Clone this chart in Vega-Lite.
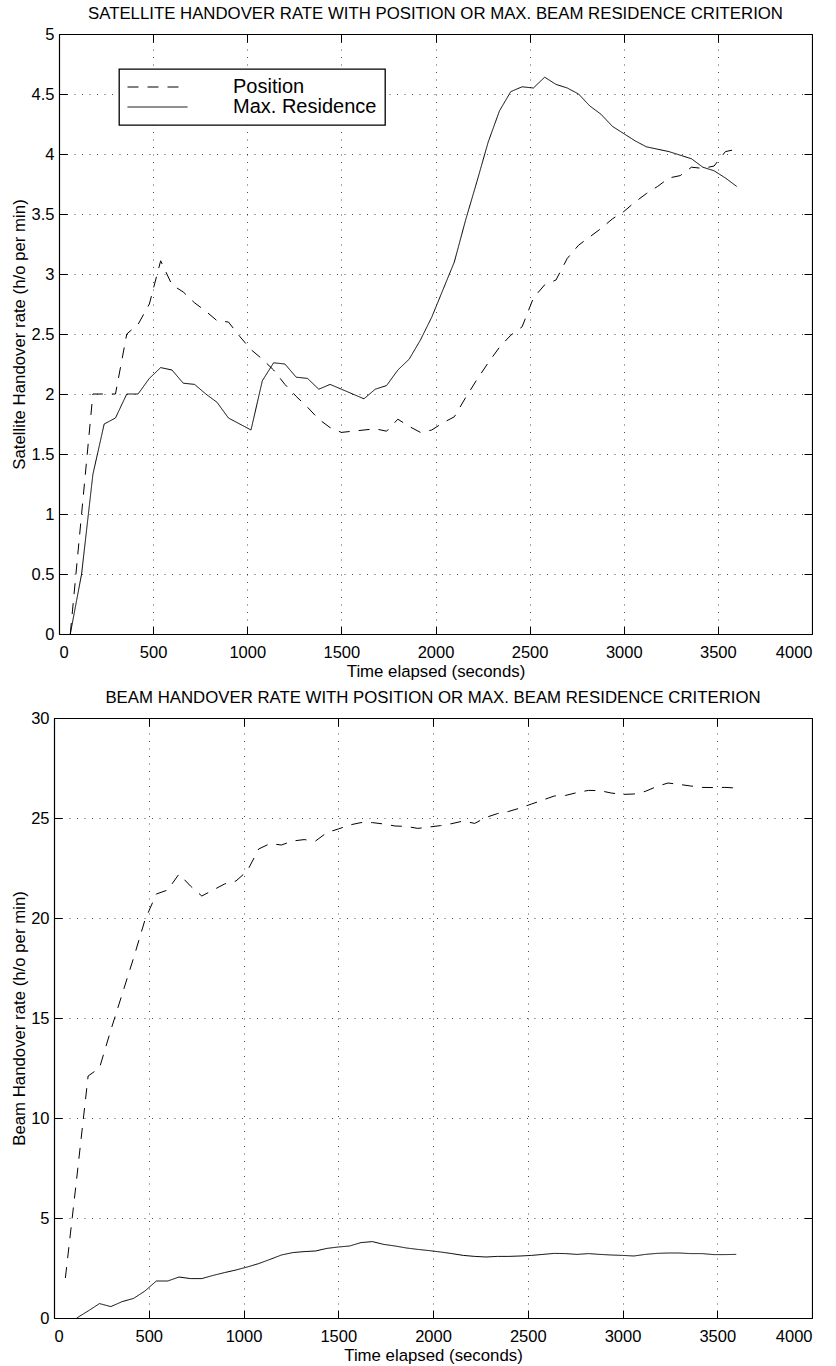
{
  "$schema": "https://vega.github.io/schema/vega-lite/v6.json",
  "background": "white",
  "padding": {"left": 11, "top": 6, "right": 0, "bottom": 0},
  "spacing": 9,
  "config": {
    "font": "Liberation Sans",
    "view": {"stroke": null},
    "axis": {
      "domainColor": "black",
      "domainWidth": 1.2,
      "tickColor": "black",
      "tickSize": -8,
      "tickWidth": 1,
      "labelFont": "Liberation Sans",
      "labelFontSize": 16.5,
      "labelColor": "black",
      "titleFont": "Liberation Sans",
      "titleFontSize": 16.8,
      "titleFontWeight": "normal",
      "titleColor": "black",
      "gridColor": "black",
      "gridOpacity": 0.7,
      "gridDash": [1, 6.5],
      "gridWidth": 1,
      "minExtent": 0
    },
    "axisX": {"labelPadding": 18, "titleBaseline": "alphabetic", "titleY": 42.5},
    "axisY": {"labelPadding": 13, "titleBaseline": "alphabetic"},
    "title": {
      "font": "Liberation Sans",
      "fontSize": 16.8,
      "fontWeight": "normal",
      "color": "black",
      "anchor": "middle",
      "frame": "group",
      "baseline": "alphabetic",
      "offset": 3
    },
    "legend": {
      "labelFont": "Liberation Sans",
      "labelFontSize": 20,
      "labelColor": "black",
      "labelLimit": 400,
      "labelOffset": 45,
      "symbolType": "stroke",
      "symbolSize": 3600,
      "symbolStrokeWidth": 1,
      "strokeColor": "black",
      "strokeWidth": 1.3,
      "fillColor": "white",
      "padding": 8,
      "rowPadding": -2.6,
      "clipHeight": 20
    }
  },
  "datasets": {
    "sat": [
      {"t": 60, "v": 0, "s": "Position"}, {"t": 120, "v": 1.0, "s": "Position"}, {"t": 180, "v": 2.0, "s": "Position"},
      {"t": 240, "v": 2.0, "s": "Position"}, {"t": 300, "v": 2.0, "s": "Position"}, {"t": 360, "v": 2.5, "s": "Position"},
      {"t": 420, "v": 2.58, "s": "Position"}, {"t": 480, "v": 2.75, "s": "Position"}, {"t": 540, "v": 3.11, "s": "Position"},
      {"t": 600, "v": 2.91, "s": "Position"}, {"t": 660, "v": 2.85, "s": "Position"}, {"t": 720, "v": 2.76, "s": "Position"},
      {"t": 780, "v": 2.69, "s": "Position"}, {"t": 840, "v": 2.61, "s": "Position"}, {"t": 900, "v": 2.6, "s": "Position"},
      {"t": 960, "v": 2.48, "s": "Position"}, {"t": 1020, "v": 2.37, "s": "Position"}, {"t": 1080, "v": 2.29, "s": "Position"},
      {"t": 1140, "v": 2.2, "s": "Position"}, {"t": 1200, "v": 2.08, "s": "Position"}, {"t": 1260, "v": 1.98, "s": "Position"},
      {"t": 1320, "v": 1.89, "s": "Position"}, {"t": 1380, "v": 1.79, "s": "Position"}, {"t": 1440, "v": 1.72, "s": "Position"},
      {"t": 1500, "v": 1.68, "s": "Position"}, {"t": 1560, "v": 1.69, "s": "Position"}, {"t": 1620, "v": 1.7, "s": "Position"},
      {"t": 1680, "v": 1.71, "s": "Position"}, {"t": 1740, "v": 1.69, "s": "Position"}, {"t": 1800, "v": 1.79, "s": "Position"},
      {"t": 1860, "v": 1.73, "s": "Position"}, {"t": 1920, "v": 1.68, "s": "Position"}, {"t": 1980, "v": 1.7, "s": "Position"},
      {"t": 2040, "v": 1.76, "s": "Position"}, {"t": 2100, "v": 1.81, "s": "Position"}, {"t": 2160, "v": 1.97, "s": "Position"},
      {"t": 2220, "v": 2.12, "s": "Position"}, {"t": 2280, "v": 2.26, "s": "Position"}, {"t": 2340, "v": 2.39, "s": "Position"},
      {"t": 2400, "v": 2.49, "s": "Position"}, {"t": 2460, "v": 2.56, "s": "Position"}, {"t": 2520, "v": 2.8, "s": "Position"},
      {"t": 2580, "v": 2.91, "s": "Position"}, {"t": 2640, "v": 2.95, "s": "Position"}, {"t": 2700, "v": 3.13, "s": "Position"},
      {"t": 2760, "v": 3.24, "s": "Position"}, {"t": 2820, "v": 3.31, "s": "Position"}, {"t": 2880, "v": 3.38, "s": "Position"},
      {"t": 2940, "v": 3.46, "s": "Position"}, {"t": 3000, "v": 3.52, "s": "Position"}, {"t": 3060, "v": 3.6, "s": "Position"},
      {"t": 3120, "v": 3.67, "s": "Position"}, {"t": 3180, "v": 3.73, "s": "Position"}, {"t": 3240, "v": 3.8, "s": "Position"},
      {"t": 3300, "v": 3.82, "s": "Position"}, {"t": 3360, "v": 3.89, "s": "Position"}, {"t": 3420, "v": 3.88, "s": "Position"},
      {"t": 3480, "v": 3.9, "s": "Position"}, {"t": 3540, "v": 4.02, "s": "Position"}, {"t": 3600, "v": 4.04, "s": "Position"},

      {"t": 60, "v": 0, "s": "Max. Residence"}, {"t": 120, "v": 0.5, "s": "Max. Residence"}, {"t": 180, "v": 1.33, "s": "Max. Residence"},
      {"t": 240, "v": 1.75, "s": "Max. Residence"}, {"t": 300, "v": 1.8, "s": "Max. Residence"}, {"t": 360, "v": 2.0, "s": "Max. Residence"},
      {"t": 420, "v": 2.0, "s": "Max. Residence"}, {"t": 480, "v": 2.13, "s": "Max. Residence"}, {"t": 540, "v": 2.22, "s": "Max. Residence"},
      {"t": 600, "v": 2.2, "s": "Max. Residence"}, {"t": 660, "v": 2.09, "s": "Max. Residence"}, {"t": 720, "v": 2.08, "s": "Max. Residence"},
      {"t": 780, "v": 2.0, "s": "Max. Residence"}, {"t": 840, "v": 1.93, "s": "Max. Residence"}, {"t": 900, "v": 1.8, "s": "Max. Residence"},
      {"t": 960, "v": 1.75, "s": "Max. Residence"}, {"t": 1020, "v": 1.7, "s": "Max. Residence"}, {"t": 1080, "v": 2.11, "s": "Max. Residence"},
      {"t": 1140, "v": 2.26, "s": "Max. Residence"}, {"t": 1200, "v": 2.25, "s": "Max. Residence"}, {"t": 1260, "v": 2.14, "s": "Max. Residence"},
      {"t": 1320, "v": 2.13, "s": "Max. Residence"}, {"t": 1380, "v": 2.04, "s": "Max. Residence"}, {"t": 1440, "v": 2.08, "s": "Max. Residence"},
      {"t": 1500, "v": 2.04, "s": "Max. Residence"}, {"t": 1560, "v": 2.0, "s": "Max. Residence"}, {"t": 1620, "v": 1.96, "s": "Max. Residence"},
      {"t": 1680, "v": 2.04, "s": "Max. Residence"}, {"t": 1740, "v": 2.07, "s": "Max. Residence"}, {"t": 1800, "v": 2.2, "s": "Max. Residence"},
      {"t": 1860, "v": 2.29, "s": "Max. Residence"}, {"t": 1920, "v": 2.45, "s": "Max. Residence"}, {"t": 1980, "v": 2.64, "s": "Max. Residence"},
      {"t": 2040, "v": 2.87, "s": "Max. Residence"}, {"t": 2100, "v": 3.1, "s": "Max. Residence"}, {"t": 2160, "v": 3.45, "s": "Max. Residence"},
      {"t": 2220, "v": 3.77, "s": "Max. Residence"}, {"t": 2280, "v": 4.1, "s": "Max. Residence"}, {"t": 2340, "v": 4.36, "s": "Max. Residence"},
      {"t": 2400, "v": 4.52, "s": "Max. Residence"}, {"t": 2460, "v": 4.56, "s": "Max. Residence"}, {"t": 2520, "v": 4.55, "s": "Max. Residence"},
      {"t": 2580, "v": 4.64, "s": "Max. Residence"}, {"t": 2640, "v": 4.58, "s": "Max. Residence"}, {"t": 2700, "v": 4.55, "s": "Max. Residence"},
      {"t": 2760, "v": 4.5, "s": "Max. Residence"}, {"t": 2820, "v": 4.4, "s": "Max. Residence"}, {"t": 2880, "v": 4.33, "s": "Max. Residence"},
      {"t": 2940, "v": 4.23, "s": "Max. Residence"}, {"t": 3000, "v": 4.17, "s": "Max. Residence"}, {"t": 3060, "v": 4.11, "s": "Max. Residence"},
      {"t": 3120, "v": 4.06, "s": "Max. Residence"}, {"t": 3180, "v": 4.04, "s": "Max. Residence"}, {"t": 3240, "v": 4.02, "s": "Max. Residence"},
      {"t": 3300, "v": 3.99, "s": "Max. Residence"}, {"t": 3360, "v": 3.96, "s": "Max. Residence"}, {"t": 3420, "v": 3.89, "s": "Max. Residence"},
      {"t": 3480, "v": 3.86, "s": "Max. Residence"}, {"t": 3540, "v": 3.8, "s": "Max. Residence"}, {"t": 3600, "v": 3.73, "s": "Max. Residence"}
    ],
    "beam": [
      {"t": 60, "v": 2.0, "s": "Position"}, {"t": 120, "v": 7.0, "s": "Position"}, {"t": 180, "v": 12.1, "s": "Position"},
      {"t": 240, "v": 12.5, "s": "Position"}, {"t": 300, "v": 14.4, "s": "Position"}, {"t": 360, "v": 16.2, "s": "Position"},
      {"t": 420, "v": 18.0, "s": "Position"}, {"t": 480, "v": 19.9, "s": "Position"}, {"t": 540, "v": 21.2, "s": "Position"},
      {"t": 600, "v": 21.4, "s": "Position"}, {"t": 660, "v": 22.2, "s": "Position"}, {"t": 720, "v": 21.6, "s": "Position"},
      {"t": 780, "v": 21.1, "s": "Position"}, {"t": 840, "v": 21.4, "s": "Position"}, {"t": 900, "v": 21.7, "s": "Position"},
      {"t": 960, "v": 21.85, "s": "Position"}, {"t": 1020, "v": 22.35, "s": "Position"}, {"t": 1080, "v": 23.45, "s": "Position"},
      {"t": 1140, "v": 23.72, "s": "Position"}, {"t": 1200, "v": 23.65, "s": "Position"}, {"t": 1260, "v": 23.85, "s": "Position"},
      {"t": 1320, "v": 23.92, "s": "Position"}, {"t": 1380, "v": 23.85, "s": "Position"}, {"t": 1440, "v": 24.27, "s": "Position"},
      {"t": 1500, "v": 24.45, "s": "Position"}, {"t": 1560, "v": 24.65, "s": "Position"}, {"t": 1620, "v": 24.77, "s": "Position"},
      {"t": 1680, "v": 24.77, "s": "Position"}, {"t": 1740, "v": 24.7, "s": "Position"}, {"t": 1800, "v": 24.6, "s": "Position"},
      {"t": 1860, "v": 24.58, "s": "Position"}, {"t": 1920, "v": 24.48, "s": "Position"}, {"t": 1980, "v": 24.55, "s": "Position"},
      {"t": 2040, "v": 24.62, "s": "Position"}, {"t": 2100, "v": 24.72, "s": "Position"}, {"t": 2160, "v": 24.85, "s": "Position"},
      {"t": 2220, "v": 24.73, "s": "Position"}, {"t": 2280, "v": 25.03, "s": "Position"}, {"t": 2340, "v": 25.22, "s": "Position"},
      {"t": 2400, "v": 25.33, "s": "Position"}, {"t": 2460, "v": 25.5, "s": "Position"}, {"t": 2520, "v": 25.7, "s": "Position"},
      {"t": 2580, "v": 25.9, "s": "Position"}, {"t": 2640, "v": 26.1, "s": "Position"}, {"t": 2700, "v": 26.13, "s": "Position"},
      {"t": 2760, "v": 26.27, "s": "Position"}, {"t": 2820, "v": 26.38, "s": "Position"}, {"t": 2880, "v": 26.37, "s": "Position"},
      {"t": 2940, "v": 26.25, "s": "Position"}, {"t": 3000, "v": 26.18, "s": "Position"}, {"t": 3060, "v": 26.2, "s": "Position"},
      {"t": 3120, "v": 26.33, "s": "Position"}, {"t": 3180, "v": 26.57, "s": "Position"}, {"t": 3240, "v": 26.75, "s": "Position"},
      {"t": 3300, "v": 26.68, "s": "Position"}, {"t": 3360, "v": 26.6, "s": "Position"}, {"t": 3420, "v": 26.53, "s": "Position"},
      {"t": 3480, "v": 26.52, "s": "Position"}, {"t": 3540, "v": 26.53, "s": "Position"}, {"t": 3600, "v": 26.5, "s": "Position"},

      {"t": 120, "v": 0, "s": "Max. Residence"}, {"t": 180, "v": 0.35, "s": "Max. Residence"},
      {"t": 240, "v": 0.72, "s": "Max. Residence"}, {"t": 300, "v": 0.57, "s": "Max. Residence"}, {"t": 360, "v": 0.82, "s": "Max. Residence"},
      {"t": 420, "v": 0.98, "s": "Max. Residence"}, {"t": 480, "v": 1.35, "s": "Max. Residence"}, {"t": 540, "v": 1.85, "s": "Max. Residence"},
      {"t": 600, "v": 1.85, "s": "Max. Residence"}, {"t": 660, "v": 2.05, "s": "Max. Residence"}, {"t": 720, "v": 1.97, "s": "Max. Residence"},
      {"t": 780, "v": 1.97, "s": "Max. Residence"}, {"t": 840, "v": 2.13, "s": "Max. Residence"}, {"t": 900, "v": 2.27, "s": "Max. Residence"},
      {"t": 960, "v": 2.4, "s": "Max. Residence"}, {"t": 1020, "v": 2.55, "s": "Max. Residence"}, {"t": 1080, "v": 2.72, "s": "Max. Residence"},
      {"t": 1140, "v": 2.93, "s": "Max. Residence"}, {"t": 1200, "v": 3.15, "s": "Max. Residence"}, {"t": 1260, "v": 3.27, "s": "Max. Residence"},
      {"t": 1320, "v": 3.32, "s": "Max. Residence"}, {"t": 1380, "v": 3.35, "s": "Max. Residence"}, {"t": 1440, "v": 3.48, "s": "Max. Residence"},
      {"t": 1500, "v": 3.55, "s": "Max. Residence"}, {"t": 1560, "v": 3.6, "s": "Max. Residence"}, {"t": 1620, "v": 3.77, "s": "Max. Residence"},
      {"t": 1680, "v": 3.82, "s": "Max. Residence"}, {"t": 1740, "v": 3.68, "s": "Max. Residence"}, {"t": 1800, "v": 3.6, "s": "Max. Residence"},
      {"t": 1860, "v": 3.5, "s": "Max. Residence"}, {"t": 1920, "v": 3.43, "s": "Max. Residence"}, {"t": 1980, "v": 3.37, "s": "Max. Residence"},
      {"t": 2040, "v": 3.3, "s": "Max. Residence"}, {"t": 2100, "v": 3.22, "s": "Max. Residence"}, {"t": 2160, "v": 3.13, "s": "Max. Residence"},
      {"t": 2220, "v": 3.08, "s": "Max. Residence"}, {"t": 2280, "v": 3.05, "s": "Max. Residence"}, {"t": 2340, "v": 3.08, "s": "Max. Residence"},
      {"t": 2400, "v": 3.08, "s": "Max. Residence"}, {"t": 2460, "v": 3.1, "s": "Max. Residence"}, {"t": 2520, "v": 3.13, "s": "Max. Residence"},
      {"t": 2580, "v": 3.18, "s": "Max. Residence"}, {"t": 2640, "v": 3.23, "s": "Max. Residence"}, {"t": 2700, "v": 3.22, "s": "Max. Residence"},
      {"t": 2760, "v": 3.18, "s": "Max. Residence"}, {"t": 2820, "v": 3.22, "s": "Max. Residence"}, {"t": 2880, "v": 3.18, "s": "Max. Residence"},
      {"t": 2940, "v": 3.15, "s": "Max. Residence"}, {"t": 3000, "v": 3.13, "s": "Max. Residence"}, {"t": 3060, "v": 3.1, "s": "Max. Residence"},
      {"t": 3120, "v": 3.18, "s": "Max. Residence"}, {"t": 3180, "v": 3.23, "s": "Max. Residence"}, {"t": 3240, "v": 3.25, "s": "Max. Residence"},
      {"t": 3300, "v": 3.25, "s": "Max. Residence"}, {"t": 3360, "v": 3.22, "s": "Max. Residence"}, {"t": 3420, "v": 3.22, "s": "Max. Residence"},
      {"t": 3480, "v": 3.17, "s": "Max. Residence"}, {"t": 3540, "v": 3.17, "s": "Max. Residence"}, {"t": 3600, "v": 3.18, "s": "Max. Residence"}
    ]
  },
  "vconcat": [
    {
      "width": 758,
      "height": 600,
      "title": {"text": "SATELLITE HANDOVER RATE WITH POSITION OR MAX. BEAM RESIDENCE CRITERION", "dx": 2.5},
      "data": {"name": "sat"},
      "layer": [
        {
          "mark": {"type": "line", "color": "black", "strokeWidth": 1},
          "encoding": {
            "x": {
              "field": "t", "type": "quantitative",
              "scale": {"domain": [0, 4000], "nice": false, "range": [5, 758]},
              "axis": {"orient": "bottom", "title": "Time elapsed (seconds)", "format": "d",
                       "values": [0, 500, 1000, 1500, 2000, 2500, 3000, 3500, 4000]}
            },
            "y": {
              "field": "v", "type": "quantitative",
              "scale": {"domain": [0, 5], "nice": false},
              "axis": {"orient": "left", "title": "Satellite Handover rate (h/o per min)", "format": "~g",
                       "offset": -5, "titleX": -35,
                       "values": [0, 0.5, 1, 1.5, 2, 2.5, 3, 3.5, 4, 4.5, 5]}
            },
            "strokeDash": {
              "field": "s", "type": "nominal",
              "scale": {"domain": ["Position", "Max. Residence"], "range": [[11, 9], [1, 0]]},
              "legend": {"title": null, "orient": "none", "legendX": 65, "legendY": 35}
            }
          }
        },
        {
          "mark": {"type": "line", "opacity": 0},
          "encoding": {
            "x": {
              "field": "t", "type": "quantitative",
              "axis": {"orient": "top", "title": null, "labels": false, "grid": false,
                       "values": [0, 500, 1000, 1500, 2000, 2500, 3000, 3500, 4000]}
            },
            "y": {
              "field": "v", "type": "quantitative",
              "axis": {"orient": "right", "title": null, "labels": false, "grid": false,
                       "values": [0, 0.5, 1, 1.5, 2, 2.5, 3, 3.5, 4, 4.5, 5]}
            }
          }
        }
      ],
      "resolve": {"axis": {"x": "independent", "y": "independent"}}
    },
    {
      "width": 758,
      "height": 600,
      "title": {"text": "BEAM HANDOVER RATE WITH POSITION OR MAX. BEAM RESIDENCE CRITERION"},
      "data": {"name": "beam"},
      "layer": [
        {
          "mark": {"type": "line", "color": "black", "strokeWidth": 1},
          "encoding": {
            "x": {
              "field": "t", "type": "quantitative",
              "scale": {"domain": [0, 4000], "nice": false},
              "axis": {"orient": "bottom", "title": "Time elapsed (seconds)", "format": "d",
                       "values": [0, 500, 1000, 1500, 2000, 2500, 3000, 3500, 4000]}
            },
            "y": {
              "field": "v", "type": "quantitative",
              "scale": {"domain": [0, 30], "nice": false},
              "axis": {"orient": "left", "title": "Beam Handover rate (h/o per min)", "format": "~g",
                       "titleX": -30,
                       "values": [0, 5, 10, 15, 20, 25, 30]}
            },
            "strokeDash": {
              "field": "s", "type": "nominal",
              "scale": {"domain": ["Position", "Max. Residence"], "range": [[11, 9], [1, 0]]},
              "legend": {"title": null, "orient": "none", "legendX": 30, "legendY": 20}
            }
          }
        },
        {
          "mark": {"type": "line", "opacity": 0},
          "encoding": {
            "x": {
              "field": "t", "type": "quantitative",
              "axis": {"orient": "top", "title": null, "labels": false, "grid": false,
                       "values": [0, 500, 1000, 1500, 2000, 2500, 3000, 3500, 4000]}
            },
            "y": {
              "field": "v", "type": "quantitative",
              "axis": {"orient": "right", "title": null, "labels": false, "grid": false,
                       "values": [0, 5, 10, 15, 20, 25, 30]}
            }
          }
        }
      ],
      "resolve": {"axis": {"x": "independent", "y": "independent"}}
    }
  ]
}
